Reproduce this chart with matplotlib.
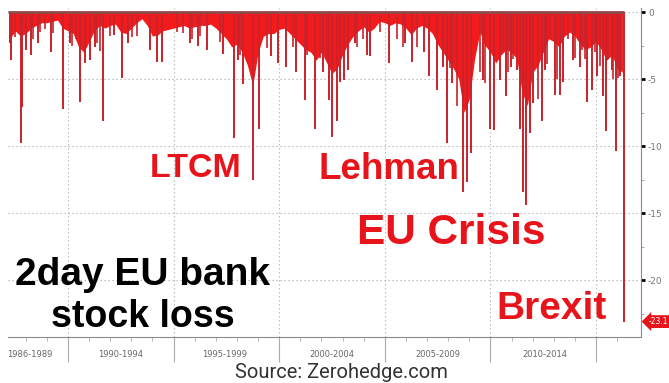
import numpy as np
import matplotlib.pyplot as plt
from matplotlib import transforms

# quarterly envelope of the dense red area (2-day loss, %)
env_start = 1987.25
env_vals = [
    -2.0, -1.4, -1.8,                 # 1987 Q2-Q4
    -1.6, -1.2, -1.0, -0.8,           # 1988
    -0.8, -0.7, -0.6, -1.2,           # 1989
    -1.4, -1.6, -2.6, -3.0,           # 1990
    -2.2, -1.4, -1.0, -1.2,           # 1991
    -1.0, -0.9, -1.5, -1.6,           # 1992
    -1.2, -0.8, -0.5, -1.0,           # 1993
    -1.8, -1.7, -1.4, -1.3,           # 1994
    -1.2, -1.1, -1.0, -1.2,           # 1995
    -1.1, -1.0, -1.0, -0.9,           # 1996
    -1.2, -1.6, -2.0, -2.6,           # 1997
    -2.4, -3.0, -4.0, -5.5,           # 1998
    -3.0, -1.8, -1.6, -1.6,           # 1999
    -1.3, -1.2, -1.6, -2.0,           # 2000
    -2.4, -2.8, -3.0, -3.6,           # 2001
    -3.0, -3.8, -4.6, -4.2,           # 2002
    -3.2, -2.4, -1.8, -1.4,           # 2003
    -1.1, -1.5, -1.2, -0.7,           # 2004
    -0.8, -1.0, -0.8, -0.9,           # 2005
    -1.2, -1.7, -1.2, -1.0,           # 2006
    -1.2, -1.6, -2.4, -3.0,           # 2007
    -3.6, -4.2, -5.0, -7.5,           # 2008
    -6.5, -3.5, -1.5, -2.5,           # 2009
    -3.0, -3.8, -3.2, -2.8,           # 2010
    -3.0, -3.5, -6.0, -7.0,           # 2011
    -4.5, -4.0, -3.0, -2.0,           # 2012
    -2.2, -2.6, -1.8, -1.5,           # 2013
    -1.8, -2.4, -2.8, -2.6,           # 2014
    -2.2, -2.8, -3.6, -3.2,           # 2015
    -4.2, -4.5,                       # 2016
]
env_years = env_start + 0.25 * np.arange(len(env_vals))

# individual deep 2-day drops
spike_years = [
    1987.25, 1987.30, 1987.78, 1987.82, 1988.00, 1988.25, 1988.58, 1989.20,
    1989.76, 1990.10, 1990.57, 1990.80, 1991.04, 1991.28, 1991.66, 1992.20,
    1992.56, 1992.84, 1993.88, 1994.20, 1994.45, 1995.78, 1996.16, 1996.58,
    1997.34, 1997.86, 1998.05, 1998.29, 1998.76, 1999.04, 1999.60, 1999.94,
    2000.32, 2000.80, 2001.23, 2001.70, 2002.07, 2002.36, 2002.50, 2002.74,
    2002.88, 2003.07, 2003.26, 2003.59, 2004.16, 2004.30, 2005.20, 2005.96,
    2006.29, 2006.86, 2007.10, 2007.47, 2007.76, 2007.95, 2008.18, 2008.70,
    2008.90, 2009.08, 2009.65, 2009.98, 2010.17, 2010.45, 2010.74, 2010.97,
    2011.26, 2011.40, 2011.54, 2011.68, 2011.87, 2012.01, 2012.44, 2012.58,
    2013.06, 2013.30, 2013.44, 2013.91, 2014.24, 2014.57, 2014.81, 2015.05,
    2015.33, 2015.47, 2015.76, 2015.95, 2016.14, 2016.33,
]
spike_vals = [
    -2.3, -3.6, -9.8, -7.1, -2.8, -3.2, -2.3, -3.0,
    -7.2, -2.3, -6.7, -3.8, -3.6, -2.6, -8.1, -1.7,
    -4.9, -2.3, -2.8, -3.7, -3.7, -2.3, -2.5, -2.8,
    -3.1, -9.4, -3.6, -5.4, -12.5, -8.7, -3.3, -3.8,
    -4.1, -4.5, -6.6, -8.7, -4.5, -6.6, -9.3, -8.1,
    -5.2, -5.1, -4.3, -2.3, -3.2, -3.3, -3.8, -2.3,
    -3.7, -3.0, -4.8, -5.8, -4.1, -9.8, -5.3, -13.4,
    -12.7, -10.5, -5.1, -8.7, -8.8, -5.1, -6.3, -4.1,
    -4.3, -8.7, -13.4, -14.4, -9.0, -6.8, -8.1, -4.3,
    -6.2, -6.2, -5.2, -3.6, -4.1, -6.7, -5.8, -4.8,
    -6.3, -8.9, -4.3, -10.4, -4.8, -23.1,
]

# smaller drops that give the area its ragged edge
minor_years = [
    1987.49, 1988.34, 1988.67, 1988.91, 1989.29, 1990.19, 1990.38, 1991.37,
    1991.52, 1991.99, 1993.03, 1993.27, 1995.16, 1995.45, 1995.88, 1996.25,
    1997.20, 1998.14, 1999.42, 2000.65, 2001.32, 2001.93, 2002.26, 2003.69,
    2003.97, 2004.77, 2005.58, 2005.86, 2006.52, 2008.09, 2008.42, 2009.51,
    2009.74, 2010.60, 2010.83, 2011.07, 2012.25, 2012.68, 2012.82, 2013.15,
    2013.67, 2014.01, 2014.34, 2014.48, 2014.95, 2015.19, 2015.57, 2015.81,
    2016.04,
]
minor_vals = [
    -1.9, -2.0, -1.5, -1.3, -1.6, -2.5, -2.0, -2.3,
    -2.9, -1.8, -1.9, -1.8, -1.5, -1.6, -2.0, -1.8,
    -2.2, -3.2, -2.7, -2.6, -3.2, -3.4, -3.5, -2.6,
    -2.0, -1.5, -2.0, -2.6, -2.6, -4.2, -7.0, -4.5,
    -5.3, -2.9, -4.5, -3.5, -6.5, -3.9, -2.0, -5.0,
    -2.0, -3.4, -2.8, -3.5, -3.0, -4.0, -3.5, -5.0,
    -4.9,
]

periods = ["1986-1989", "1990-1994", "1995-1999", "2000-2004", "2005-2009", "2010-2014"]
period_edges = [1990, 1995, 2000, 2005, 2010, 2015]
last_value = -23.1

RED = "#f21a1a"
SPIKE = "#c8232b"

fig = plt.figure(figsize=(6.69, 3.83), dpi=100)
ax = fig.add_axes([8 / 669, 46 / 383, 633 / 669, 329 / 383])
ax.set_xlim(1987.16, 2017.13)
ax.set_ylim(-24.25, 0.3)

ax.fill_between(env_years, env_vals, 0, color=RED, lw=0, zorder=2)
ax.vlines(minor_years, minor_vals, 0, color=SPIKE, lw=1.2, zorder=3)
ax.vlines(spike_years, spike_vals, 0, color=SPIKE, lw=1.4, zorder=3)
ax.hlines(0, env_years[0] - 0.1, spike_years[-1], color="#8f4a4a", lw=2, zorder=4)

# axes styling
for s in ["left", "top"]:
    ax.spines[s].set_visible(False)
ax.spines["right"].set_color("#8a8a8a")
ax.spines["bottom"].set_color("#8a8a8a")

ax.yaxis.tick_right()
ax.set_yticks([0, -5, -10, -15, -20])
ax.set_yticklabels(["0", "-5", "-10", "-15", "-20"], color="#777777", fontsize=6.5)
ax.set_yticks([-2.5, -7.5, -12.5, -17.5, -22.5], minor=True)
ax.tick_params(axis="y", which="major", length=3, width=2, color="k", pad=2)
ax.tick_params(axis="y", which="minor", length=2, width=0.6, color="#999999")

ax.set_xticks(period_edges)
ax.set_xticklabels([])
ax.set_xticks(np.arange(1988, 2017), minor=True)
ax.tick_params(axis="x", which="major", length=18, width=0.8, color="#aaaaaa")
ax.tick_params(axis="x", which="minor", length=3, width=0.6, color="#aaaaaa")

ax.grid(which="major", color="#b5b5b5", lw=0.8, ls=(0, (1.2, 2.4)))
ax.set_axisbelow(True)

trans = transforms.blended_transform_factory(ax.transData, ax.transAxes)
label_x = [1988.2, 1992.5, 1997.4, 2002.5, 2007.5, 2012.6]
for lx, p in zip(label_x, periods):
    ax.text(lx, -0.052, p, transform=trans, ha="center", va="center",
            fontsize=6, color="#666666", family="DejaVu Sans")

# last value tag
ytrans = transforms.blended_transform_factory(ax.transAxes, ax.transData)
ax.text(1.012, last_value, "%.1f" % last_value, transform=ytrans, ha="left", va="center",
        fontsize=5.5, color="white", clip_on=False,
        bbox=dict(boxstyle="larrow,pad=0.25", fc="#e8141c", ec="none"))

# annotations
bold = dict(family="Liberation Sans", weight="bold")
ax.text(1993.88, -12.3, "LTCM", color="#e8141c", fontsize=24.5, ha="left", va="baseline", **bold)
ax.text(2001.84, -12.45, "Lehman", color="#e8141c", fontsize=26.5, ha="left", va="baseline", **bold)
ax.text(2003.68, -17.3, "EU Crisis", color="#e8141c", fontsize=30.5, ha="left", va="baseline", **bold)
ax.text(2010.27, -22.9, "Brexit", color="#e8141c", fontsize=28, ha="left", va="baseline", **bold)
ax.text(1993.55, -20.4, "2day EU bank", color="black", fontsize=28, ha="center", va="baseline", **bold)
ax.text(1993.55, -23.5, "stock loss", color="black", fontsize=27, ha="center", va="baseline", **bold)

fig.text(341 / 669, 5 / 383, "Source: Zerohedge.com", family="Roboto", fontsize=14.5,
         color="#333333", ha="center", va="baseline")

fig.savefig("out.png", dpi=100, facecolor="white")
